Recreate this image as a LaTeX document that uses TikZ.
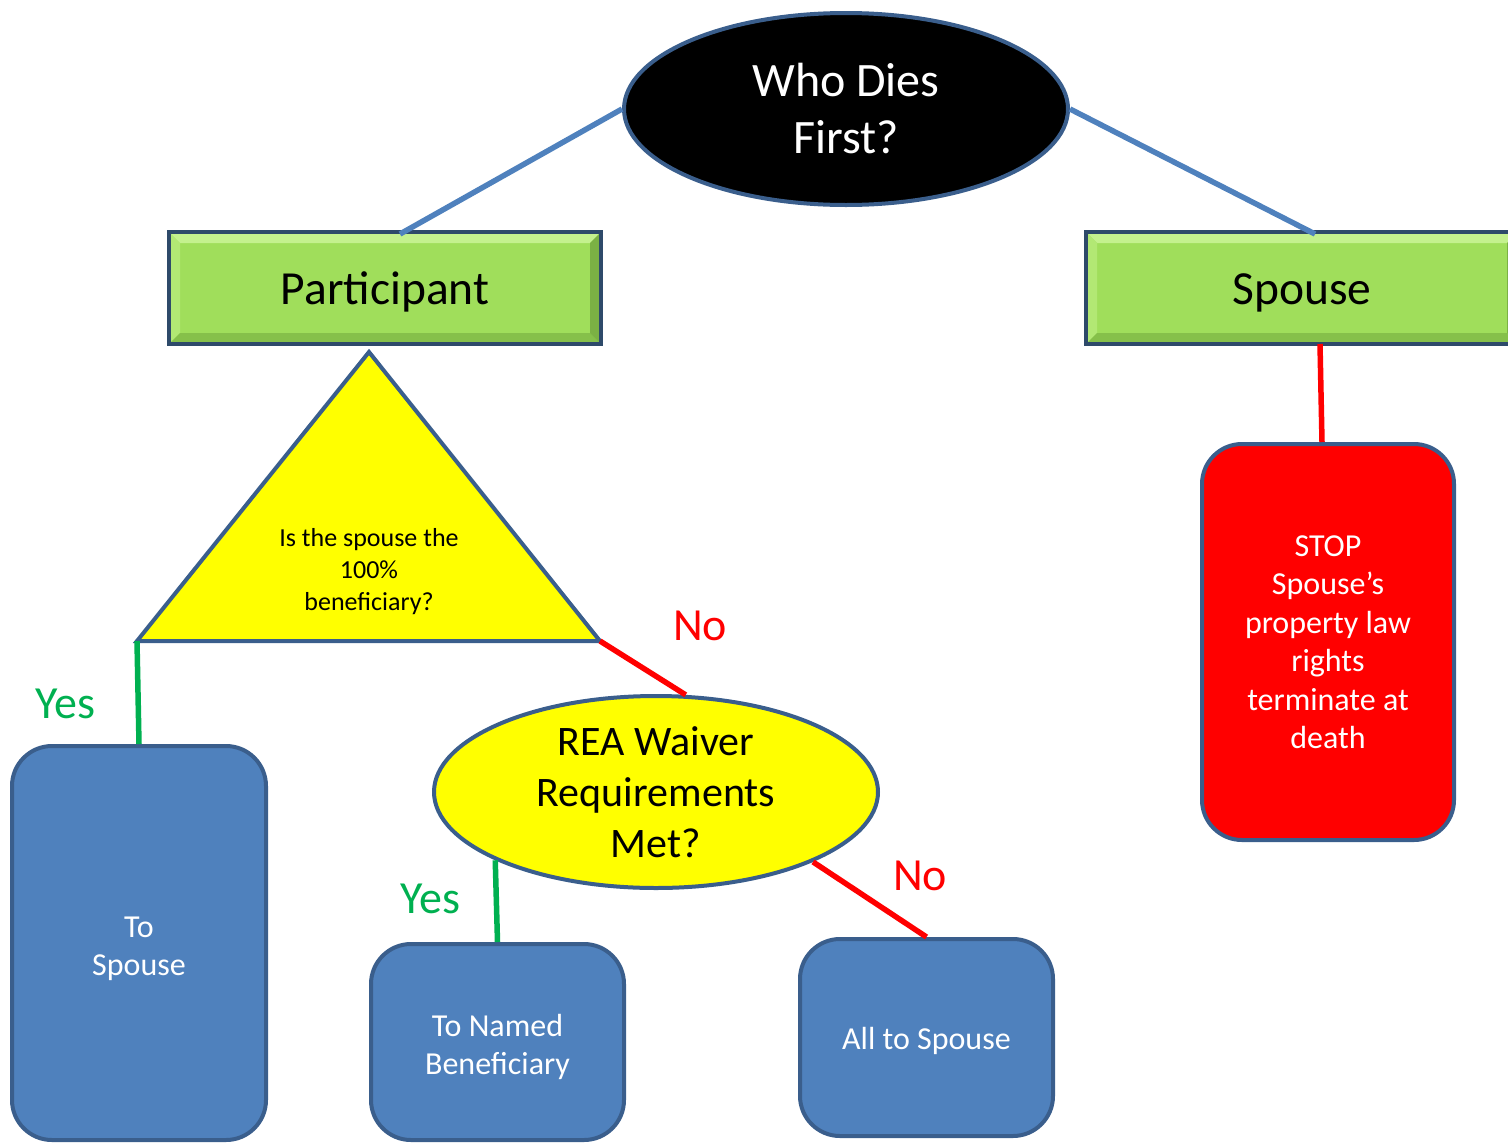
\documentclass[tikz,border=0pt]{standalone}
\usepackage{fontspec}
\setmainfont{Carlito}
\usetikzlibrary{shapes.geometric,calc}
\definecolor{edgeblue}{HTML}{3A5E8C}
\definecolor{linkblue}{HTML}{4F81BD}
\definecolor{boxblue}{HTML}{4F81BD}
\definecolor{leaf}{HTML}{A0DE5B}
\definecolor{leaflight}{HTML}{C4F18E}
\definecolor{leafmid}{HTML}{B2E874}
\definecolor{leafdark}{HTML}{86C04A}
\definecolor{bevelframe}{HTML}{2E4A6A}
\definecolor{yesgreen}{HTML}{00B050}
\definecolor{stopred}{HTML}{FF0000}
\definecolor{quiz}{HTML}{FFFF00}

% lower a block of centred lines without changing the node's size
\newcommand{\droptext}[2]{\raisebox{-#1}[\height][\depth]{\begin{tabular}{@{}c@{}}#2\end{tabular}}}

\begin{document}
\begin{tikzpicture}[x=1pt,y=-1pt,
  link/.style={line width=5.5pt},
  bevelbox/.style={rectangle, draw=bevelframe, line width=4pt, fill=leaf,
    minimum width=432pt, minimum height=112pt, inner sep=0pt,
    font=\fontsize{47.5}{57}\selectfont,
    path picture={
      \fill[leaflight] (path picture bounding box.north west) -- (path picture bounding box.north east)
        -- ([shift={(-11pt,-11pt)}]path picture bounding box.north east)
        -- ([shift={(11pt,-11pt)}]path picture bounding box.north west) -- cycle;
      \fill[leafmid] (path picture bounding box.north west) -- (path picture bounding box.south west)
        -- ([shift={(11pt,11pt)}]path picture bounding box.south west)
        -- ([shift={(11pt,-11pt)}]path picture bounding box.north west) -- cycle;
      \fill[leafdark] (path picture bounding box.south west) -- (path picture bounding box.south east)
        -- ([shift={(-11pt,11pt)}]path picture bounding box.south east)
        -- ([shift={(11pt,11pt)}]path picture bounding box.south west) -- cycle;
      \fill[leafdark!92!black] (path picture bounding box.north east) -- (path picture bounding box.south east)
        -- ([shift={(-11pt,11pt)}]path picture bounding box.south east)
        -- ([shift={(-11pt,-11pt)}]path picture bounding box.north east) -- cycle;
    }},
  endbox/.style={rectangle, rounded corners=40pt, draw=edgeblue, line width=4pt,
    fill=boxblue, text=white, inner sep=0pt, align=center,
    font=\fontsize{32}{38.5}\selectfont},
  oval/.style={ellipse, draw=edgeblue, line width=4pt, inner sep=0pt, align=center,
    minimum width=444pt, minimum height=192pt},
  answer/.style={font=\fontsize{46}{52}\selectfont, inner sep=0pt}
]
\useasboundingbox (0,0) rectangle (1508,1144);
\clip (0,0) rectangle (1508,1144);

% top question
\node[oval, fill=black, text=white, font=\fontsize{48}{57}\selectfont] (who) at (846,109) {Who Dies\\First?};

% the two branches
\node[bevelbox] (part) at (385,288) {\droptext{5pt}{Participant}};
\node[bevelbox] (spouse) at (1302,288) {\droptext{5pt}{Spouse}};

% spouse branch outcome
\node[endbox, fill=stopred, minimum width=252pt, minimum height=396pt] (stop) at (1328,642)
  {STOP\\Spouse’s\\property law\\rights\\terminate at\\death};

% participant branch: beneficiary question
\coordinate (tapex) at (369,352);
\coordinate (tleft) at (137,641);
\coordinate (tright) at (600,641);
\fill[quiz] (tapex) -- (tright) -- (tleft) -- cycle;
\draw[edgeblue, line width=4pt, line join=miter] (tapex) -- (tright) -- (tleft) -- cycle;
\node[align=center, inner sep=0pt, font=\fontsize{26}{32}\selectfont] (tq) at (369,572)
  {Is the spouse the\\100\%\\beneficiary?};

% waiver question
\node[oval, fill=quiz, font=\fontsize{42}{51}\selectfont] (rea) at (656,792)
  {REA Waiver\\Requirements\\Met?};

% outcomes
\node[endbox, minimum width=254pt, minimum height=394pt] (tosp) at (139,943) {\droptext{6pt}{To\\Spouse}};
\node[endbox, minimum width=253pt, minimum height=196pt] (named) at (497.5,1042) {\droptext{6pt}{To Named\\Beneficiary}};
\node[endbox, minimum width=253pt, minimum height=197pt] (allsp) at (926.5,1037.5) {\droptext{4pt}{All to Spouse}};

% connectors
\draw[link, linkblue] (who.west) -- ([xshift=15pt,yshift=-4pt]part.north);
\draw[link, linkblue] (who.east) -- ([xshift=13pt,yshift=-4pt]spouse.north);
\draw[link, stopred] ([xshift=18pt,yshift=2pt]spouse.south) -- ([xshift=-6pt]stop.north);
\draw[link, yesgreen] (tleft) -- (tosp.north);
\draw[link, stopred] (tright) -- (rea.73);
\draw[link, yesgreen] (rea.203) -- (named.north);
\draw[link, stopred] (rea.336) -- (allsp.north);

% answer labels
\node[answer, text=yesgreen] (y1) at (65,704) {Yes};
\node[answer, text=stopred] (n1) at (700,626) {No};
\node[answer, text=yesgreen] (y2) at (430,899) {Yes};
\node[answer, text=stopred] (n2) at (920,876) {No};
\end{tikzpicture}
\end{document}
